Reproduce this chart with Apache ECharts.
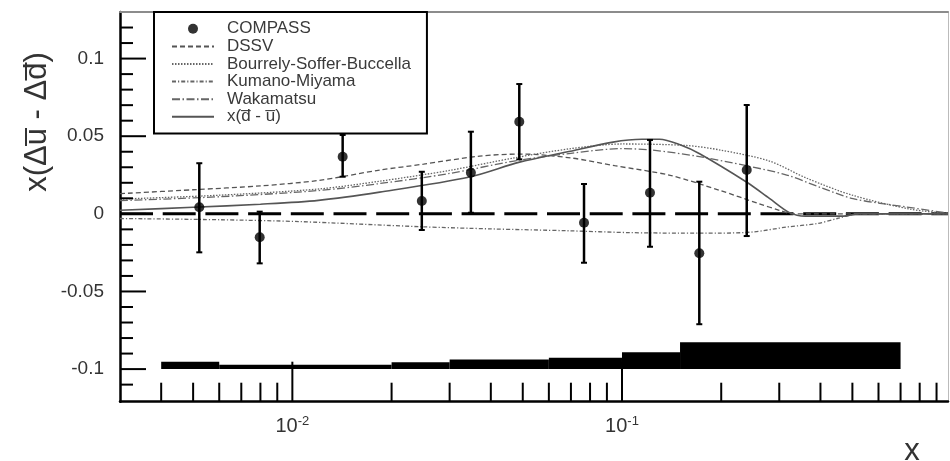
<!DOCTYPE html>
<html><head><meta charset="utf-8">
<script src="https://cdn.jsdelivr.net/npm/echarts@6/dist/echarts.min.js"></script>
<style>html,body{margin:0;padding:0;background:#fff}#c{width:950px;height:461px}</style>
</head><body><div id="c"></div>
<script>
// ---------- data ----------
const compassX  = [0.00522, 0.00796, 0.01421, 0.0247, 0.0348, 0.0488, 0.0767, 0.1216, 0.1716, 0.239];
const compassY  = [0.0042, -0.0151, 0.0368, 0.0083, 0.0265, 0.0593, -0.0057, 0.0136, -0.0254, 0.0282];
const compassLo = [-0.0248, -0.0319, 0.0239, -0.0104, 0.0007, 0.0351, -0.0315, -0.0212, -0.0711, -0.0143];
const compassHi = [0.0326, 0.0014, 0.0508, 0.0271, 0.0529, 0.0836, 0.0192, 0.0476, 0.0207, 0.0701];

const sysBinLo = [0.004, 0.006, 0.02, 0.03, 0.06, 0.1, 0.15];
const sysBinHi = [0.006, 0.02, 0.03, 0.06, 0.1, 0.15, 0.7];
const sysTop   = [-0.0952, -0.0972, -0.0956, -0.0938, -0.0927, -0.0892, -0.0827];
const sysBase  = -0.1;

const dssvX = [0.003, 0.005, 0.008, 0.012, 0.0184, 0.025, 0.037, 0.05, 0.07, 0.095, 0.14, 0.198, 0.26, 0.30, 0.33, 0.975];
const dssvY = [0.013, 0.0155, 0.018, 0.0215, 0.0282, 0.032, 0.0372, 0.0385, 0.036, 0.031, 0.0248, 0.0151, 0.0066, 0.0023, 0, 0];

const bsbX = [0.003, 0.006, 0.012, 0.0184, 0.03, 0.047, 0.07, 0.1, 0.157, 0.2, 0.28, 0.363, 0.5, 0.75, 0.975];
const bsbY = [0.0095, 0.012, 0.016, 0.021, 0.028, 0.036, 0.042, 0.045, 0.044, 0.041, 0.034, 0.023, 0.012, 0.003, 0.0002];

const kmX = [0.003, 0.006, 0.0105, 0.0245, 0.04, 0.0687, 0.1055, 0.15, 0.198, 0.249, 0.316, 0.39, 0.45, 0.52, 0.975];
const kmY = [-0.003, -0.0038, -0.005, -0.0083, -0.0097, -0.0109, -0.0121, -0.0124, -0.0124, -0.0117, -0.0085, -0.0063, -0.003, 0, 0];

const wakX = [0.003, 0.006, 0.012, 0.0184, 0.03, 0.047, 0.07, 0.1, 0.124, 0.17, 0.2385, 0.316, 0.4, 0.502, 0.73, 0.975];
const wakY = [0.0085, 0.011, 0.015, 0.0195, 0.026, 0.034, 0.039, 0.042, 0.041, 0.037, 0.031, 0.025, 0.017, 0.0098, 0.0044, 0.0005];

const dubX = [0.003, 0.005, 0.008, 0.012, 0.0184, 0.0345, 0.0489, 0.0678, 0.0939, 0.115, 0.13, 0.15, 0.172, 0.2385, 0.28, 0.3223, 0.36, 0.47, 0.52, 0.975];
const dubY = [0.0023, 0.0042, 0.0062, 0.0087, 0.014, 0.0237, 0.0333, 0.0398, 0.0462, 0.048, 0.048, 0.0445, 0.0387, 0.0205, 0.010, 0.0008, -0.0015, -0.0015, 0, 0];

const zeroX = [0.003, 0.975];
const zeroY = [0, 0];

const xMajorTicks = [0.01, 0.1];
const xMinorTicks = [0.004, 0.005, 0.006, 0.007, 0.008, 0.009, 0.02, 0.03, 0.04, 0.05, 0.06, 0.07, 0.08, 0.09, 0.2, 0.3, 0.4, 0.5, 0.6, 0.7, 0.8, 0.9];
const xLabelValues = [0.01, 0.1];
const xLabelExps = ['-2', '-1'];
const yMajorTicks = [-0.1, -0.05, 0, 0.05, 0.1];
const yMinorTicks = [-0.11, -0.09, -0.08, -0.07, -0.06, -0.04, -0.03, -0.02, -0.01, 0.01, 0.02, 0.03, 0.04, 0.06, 0.07, 0.08, 0.09, 0.11, 0.12];
const yLabelValues = [-0.1, -0.05, 0, 0.05, 0.1];
const yLabelTexts = ['-0.1', '-0.05', '0', '0.05', '0.1'];

const names = ['COMPASS', 'DSSV', 'Bourrely-Soffer-Buccella', 'Kumano-Miyama', 'Wakamatsu', 'x(d\u0305 - u\u0305)'];

// ---------- chart ----------
const X_MIN = 0.003, X_MAX = 0.975, Y_MIN = -0.121, Y_MAX = 0.13;
const FONT = '"Liberation Sans", Arial, sans-serif';
const zip = (a, b) => a.map((v, i) => [v, b[i]]);
const chart = echarts.init(document.getElementById('c'), null, {renderer: 'canvas'});

function curve(name, xs, ys, dash, width, color) {
  return {
    name: name, type: 'line', data: zip(xs, ys), symbol: 'none', showSymbol: false, smooth: 0.3,
    lineStyle: {color: color, width: width, type: dash},
    itemStyle: {color: 'rgba(0,0,0,0)', opacity: 0},
    z: 3, silent: true
  };
}

const option = {
  animation: false,
  grid: {left: 120, top: 12, right: 2, bottom: 59.3, containLabel: false},
  xAxis: [{
    type: 'log', logBase: 10, min: X_MIN, max: X_MAX, position: 'bottom',
    axisLine: {show: true, onZero: false, lineStyle: {color: '#000', width: 2.5}},
    axisTick: {show: false}, minorTick: {show: false}, splitLine: {show: false},
    axisLabel: {
      margin: 11, showMinLabel: false, showMaxLabel: false,
      formatter: function (v) {
        for (let i = 0; i < xLabelValues.length; i++) {
          if (Math.abs(Math.log10(v) - Math.log10(xLabelValues[i])) < 1e-6) return '{b|10}{s|' + xLabelExps[i] + '}';
        }
        return '';
      },
      rich: {
        b: {fontSize: 20, color: '#333', fontFamily: FONT, lineHeight: 24, verticalAlign: 'bottom'},
        s: {fontSize: 13, color: '#333', fontFamily: FONT, lineHeight: 13, verticalAlign: 'bottom', padding: [0, 0, 9, 0]}
      }
    }
  }, {
    type: 'log', logBase: 10, min: X_MIN, max: X_MAX, position: 'top',
    axisLine: {show: true, onZero: false, lineStyle: {color: '#8c8c8c', width: 2}},
    axisTick: {show: false}, axisLabel: {show: false}, splitLine: {show: false}
  }],
  yAxis: [{
    type: 'value', min: Y_MIN, max: Y_MAX, position: 'left',
    axisLine: {show: true, onZero: false, lineStyle: {color: '#000', width: 2.5}},
    axisTick: {show: false}, splitLine: {show: false},
    axisLabel: {
      margin: 16, showMinLabel: false, showMaxLabel: false,
      fontSize: 19, color: '#333', fontFamily: FONT,
      formatter: function (v) {
        for (let i = 0; i < yLabelValues.length; i++) {
          if (Math.abs(v - yLabelValues[i]) < 1e-9) return yLabelTexts[i];
        }
        return '';
      }
    }
  }, {
    type: 'value', min: Y_MIN, max: Y_MAX, position: 'right',
    axisLine: {show: true, onZero: false, lineStyle: {color: '#bbb', width: 1}},
    axisTick: {show: false}, axisLabel: {show: false}, splitLine: {show: false}
  }],
  legend: {
    orient: 'vertical', left: 154, top: 12,
    itemWidth: 42, itemHeight: 10, itemGap: 0,
    padding: [8, 16, 8, 17],
    borderColor: '#000', borderWidth: 2, backgroundColor: '#fff',
    textStyle: {fontSize: 17, color: '#3a3a3a', fontFamily: FONT, lineHeight: 17.6, padding: [0, 0, 0, 8]},
    data: names, selectedMode: false
  },
  graphic: [
    {type: 'text', x: 37, y: 122, rotation: Math.PI / 2, z: 10,
     style: {text: 'x(\u0394u\u0305 - \u0394d\u0305)', fontSize: 31, fontFamily: FONT, fill: '#333', align: 'center', verticalAlign: 'middle'}},
    {type: 'text', x: 912, y: 451, z: 10,
     style: {text: 'x', fontSize: 31, fontFamily: FONT, fill: '#333', align: 'center', verticalAlign: 'middle'}}
  ],
  series: [
    {
      type: 'custom', silent: true, z: 2,
      data: sysBinLo.map((lo, i) => [lo, sysBinHi[i], sysBase, sysTop[i]]),
      encode: {x: [0, 1], y: [2, 3]},
      renderItem: function (params, api) {
        const p0 = api.coord([api.value(0), api.value(3)]);
        const p1 = api.coord([api.value(1), api.value(2)]);
        return {type: 'rect', shape: {x: p0[0], y: p0[1], width: p1[0] - p0[0], height: p1[1] - p0[1]}, style: {fill: '#000'}};
      }
    },
    {
      type: 'line', data: zip(zeroX, zeroY), symbol: 'none', silent: true, z: 2,
      lineStyle: {color: '#000', width: 3, type: [33, 9.7]}
    },
    curve(names[1], dssvX, dssvY, [5, 3], 1.3, '#555'),
    curve(names[2], bsbX, bsbY, [1.5, 1.5], 1.3, '#666'),
    curve(names[3], kmX, kmY, [4, 2, 1.2, 2], 1.3, '#666'),
    curve(names[4], wakX, wakY, [8, 2.5, 1.5, 2.5], 1.3, '#666'),
    curve(names[5], dubX, dubY, 'solid', 1.6, '#555'),
    {
      type: 'custom', silent: true, z: 4,
      data: compassX.map((x, i) => [x, compassLo[i], compassHi[i]]),
      encode: {x: 0, y: [1, 2]},
      renderItem: function (params, api) {
        const a = api.coord([api.value(0), api.value(1)]);
        const b = api.coord([api.value(0), api.value(2)]);
        const c = 3;
        return {type: 'group', children: [
          {type: 'line', shape: {x1: a[0], y1: a[1], x2: b[0], y2: b[1]}, style: {stroke: '#000', lineWidth: 2.5}},
          {type: 'line', shape: {x1: a[0] - c, y1: a[1], x2: a[0] + c, y2: a[1]}, style: {stroke: '#000', lineWidth: 2}},
          {type: 'line', shape: {x1: b[0] - c, y1: b[1], x2: b[0] + c, y2: b[1]}, style: {stroke: '#000', lineWidth: 2}}
        ]};
      }
    },
    {
      name: names[0], type: 'scatter', data: zip(compassX, compassY),
      symbol: 'circle', symbolSize: 10, itemStyle: {color: '#000'}, z: 5, silent: true
    },
    {
      type: 'custom', silent: true, z: 6,
      data: xMajorTicks.map(v => [v, Y_MIN, 1]).concat(xMinorTicks.map(v => [v, Y_MIN, 0])),
      encode: {x: 0, y: 1},
      renderItem: function (params, api) {
        const p = api.coord([api.value(0), api.value(1)]);
        const len = api.value(2) ? 40 : 19;
        return {type: 'line', shape: {x1: p[0], y1: p[1], x2: p[0], y2: p[1] - len}, style: {stroke: '#000', lineWidth: 2}};
      }
    },
    {
      type: 'custom', silent: true, z: 6,
      data: yMajorTicks.map(v => [X_MIN, v, 1]).concat(yMinorTicks.map(v => [X_MIN, v, 0])),
      encode: {x: 0, y: 1},
      renderItem: function (params, api) {
        const p = api.coord([api.value(0), api.value(1)]);
        const len = api.value(2) ? 26 : 13;
        return {type: 'line', shape: {x1: p[0], y1: p[1], x2: p[0] + len, y2: p[1]}, style: {stroke: '#000', lineWidth: 2}};
      }
    }
  ]
};
chart.setOption(option);
</script>
</body></html>
